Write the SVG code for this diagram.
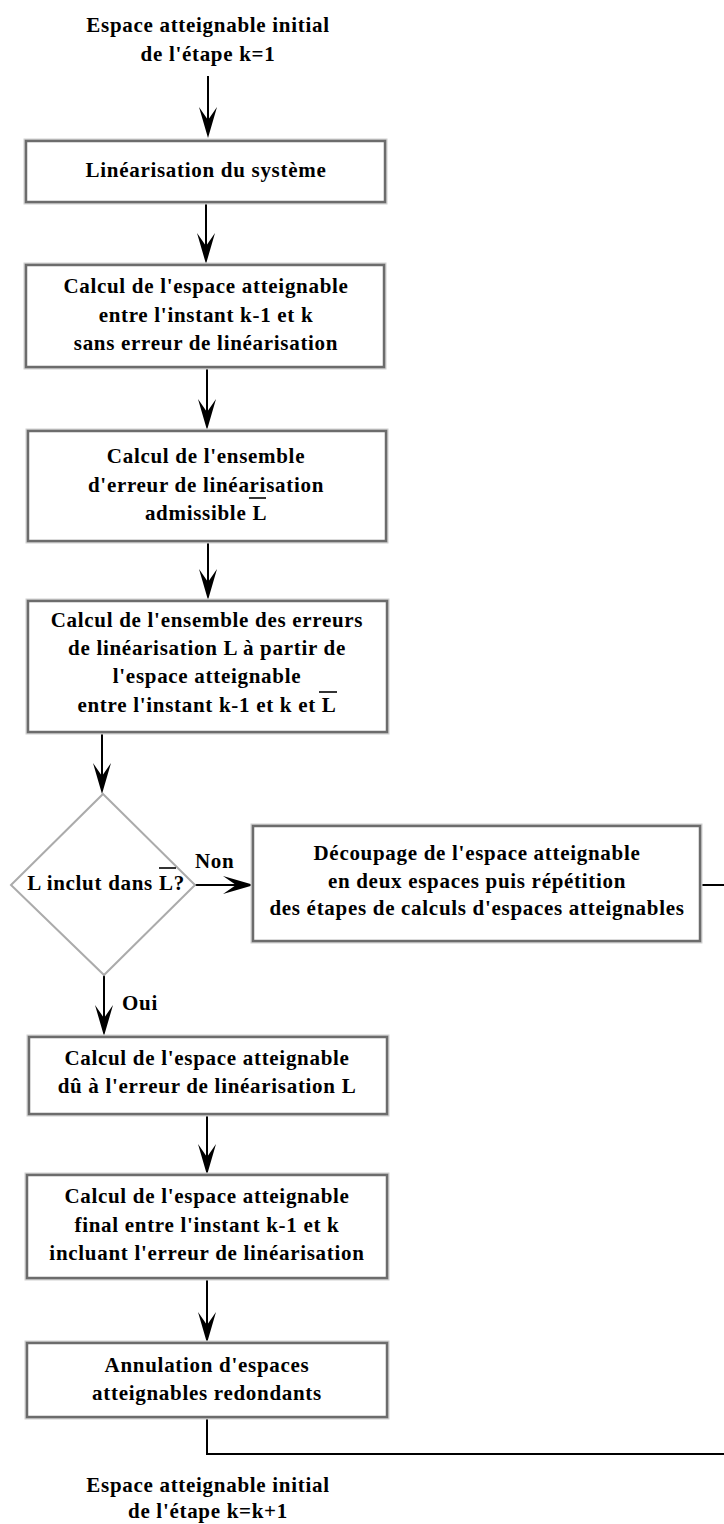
<svg xmlns="http://www.w3.org/2000/svg" width="724" height="1524" viewBox="0 0 724 1524">
<style>
text{font-family:"Liberation Serif","Times New Roman",serif;font-weight:bold;font-size:21px;letter-spacing:0.7px;fill:#000;}
.c{text-anchor:middle;}
.halo{fill:none;stroke:#cfcfcf;stroke-width:5;}
.box{fill:#fff;stroke:#6c6c6c;stroke-width:2.5;}
.dia{fill:#fff;stroke:#ababab;stroke-width:2;}
.ln{fill:none;stroke:#000;stroke-width:2;}
.ov{stroke:#000;stroke-width:1.6;}
</style>
<defs>
<marker id="ah" markerUnits="userSpaceOnUse" viewBox="-32 -10 33 20" markerWidth="33" markerHeight="20" refX="-4" refY="0" orient="auto">
<path d="M0,0 L-31,-9 L-18,0 L-31,9 Z" fill="#000"/>
</marker>
</defs>
<rect width="724" height="1524" fill="#fff"/>

<g id="start">
<text class="c" x="208" y="32">Espace atteignable initial</text>
<text class="c" x="208" y="61">de l'étape k=1</text>
</g>

<g id="connectors">
<line class="ln" x1="208" y1="76" x2="208" y2="134" marker-end="url(#ah)"/>
<line class="ln" x1="206" y1="202" x2="206" y2="260" marker-end="url(#ah)"/>
<line class="ln" x1="207" y1="367" x2="207" y2="426" marker-end="url(#ah)"/>
<line class="ln" x1="208" y1="541" x2="208" y2="596" marker-end="url(#ah)"/>
<line class="ln" x1="102" y1="732" x2="102" y2="790" marker-end="url(#ah)"/>
<line class="ln" x1="195" y1="885" x2="250" y2="885" marker-end="url(#ah)"/>
<line class="ln" x1="700" y1="885" x2="724" y2="885"/>
<line class="ln" x1="104" y1="975" x2="104" y2="1032" marker-end="url(#ah)"/>
<line class="ln" x1="207" y1="1114" x2="207" y2="1171" marker-end="url(#ah)"/>
<line class="ln" x1="207" y1="1278" x2="207" y2="1339" marker-end="url(#ah)"/>
<path class="ln" d="M207,1417 V1454 H724"/>
</g>

<g id="n1">
<rect class="halo" x="26" y="141" width="359" height="61"/>
<rect class="box" x="26" y="141" width="359" height="61"/>
<text class="c" x="206" y="177">Linéarisation du système</text>
</g>

<g id="n2">
<rect class="halo" x="26" y="265" width="358" height="102"/>
<rect class="box" x="26" y="265" width="358" height="102"/>
<text class="c" x="206" y="293">Calcul de l'espace atteignable</text>
<text class="c" x="206" y="322">entre l'instant k-1 et k</text>
<text class="c" x="206" y="350">sans erreur de linéarisation</text>
</g>

<g id="n3">
<rect class="halo" x="28" y="431" width="358" height="110"/>
<rect class="box" x="28" y="431" width="358" height="110"/>
<text class="c" x="206" y="463">Calcul de l'ensemble</text>
<text class="c" x="206" y="492">d'erreur de linéarisation</text>
<text class="c" x="206" y="520">admissible L</text>
<line class="ov" x1="249" y1="498" x2="266" y2="498"/>
</g>

<g id="n4">
<rect class="halo" x="28" y="601" width="359" height="131"/>
<rect class="box" x="28" y="601" width="359" height="131"/>
<text class="c" x="207" y="627">Calcul de l'ensemble des erreurs</text>
<text class="c" x="207" y="655">de linéarisation L à partir de</text>
<text class="c" x="207" y="683">l'espace atteignable</text>
<text class="c" x="207" y="712">entre l'instant k-1 et k et L</text>
<line class="ov" x1="319" y1="692" x2="337" y2="692"/>
</g>

<g id="d1">
<polygon class="dia" points="103,794 195,885 104,975 11,885"/>
<text class="c" x="106" y="890">L inclut dans L?</text>
<line class="ov" x1="159" y1="868" x2="176" y2="868"/>
</g>

<g id="labels">
<text x="195" y="868">Non</text>
<text x="122" y="1010">Oui</text>
</g>

<g id="n5">
<rect class="halo" x="253" y="826" width="447" height="115"/>
<rect class="box" x="253" y="826" width="447" height="115"/>
<text class="c" x="477" y="860">Découpage de l'espace atteignable</text>
<text class="c" x="477" y="888">en deux espaces puis répétition</text>
<text class="c" x="477" y="915">des étapes de calculs d'espaces atteignables</text>
</g>

<g id="n6">
<rect class="halo" x="29" y="1037" width="358" height="77"/>
<rect class="box" x="29" y="1037" width="358" height="77"/>
<text class="c" x="207" y="1065">Calcul de l'espace atteignable</text>
<text class="c" x="207" y="1093">dû à l'erreur de linéarisation L</text>
</g>

<g id="n7">
<rect class="halo" x="27" y="1175" width="360" height="103"/>
<rect class="box" x="27" y="1175" width="360" height="103"/>
<text class="c" x="207" y="1203">Calcul de l'espace atteignable</text>
<text class="c" x="207" y="1232">final entre l'instant k-1 et k</text>
<text class="c" x="207" y="1260">incluant l'erreur de linéarisation</text>
</g>

<g id="n8">
<rect class="halo" x="27" y="1343" width="360" height="74"/>
<rect class="box" x="27" y="1343" width="360" height="74"/>
<text class="c" x="207" y="1372">Annulation d'espaces</text>
<text class="c" x="207" y="1400">atteignables redondants</text>
</g>

<g id="end">
<text class="c" x="208" y="1492">Espace atteignable initial</text>
<text class="c" x="208" y="1518">de l'étape k=k+1</text>
</g>
</svg>
